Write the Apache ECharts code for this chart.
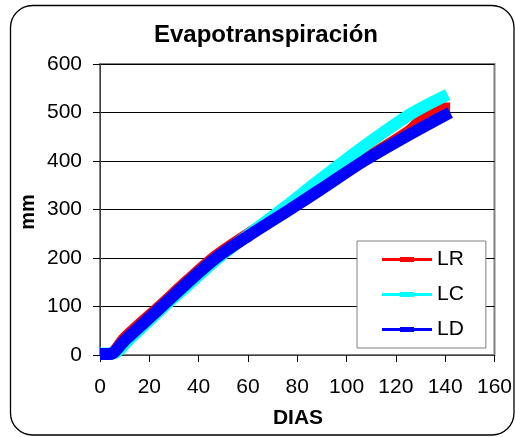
<!DOCTYPE html>
<html lang="es">
<head>
    <meta charset="utf-8">
    <title>Evapotranspiración</title>
    <script src="https://cdn.jsdelivr.net/npm/echarts@6/dist/echarts.min.js"></script>
    <style>
        html, body { margin: 0; padding: 0; background: #fff; }
        #chart { width: 515px; height: 437px; }
    </style>
</head>
<body>
<div id="chart"></div>

<script>
    // values: [day, mm]
    var lrDays   = [0, 4, 10, 25, 35, 47, 60, 77, 90, 107, 125, 137, 142];
    var lrValues = [2, 2, 35, 104, 151, 204, 249, 302, 345, 402, 460, 508, 508];

    var lcDays   = [0, 5, 12, 26, 37, 48, 62, 75, 87, 99, 113, 127, 141];
    var lcValues = [3, 3, 33, 100, 150, 200, 255, 305, 353, 400, 452, 500, 537];

    var ldDays   = [0, 4, 10, 25, 35, 47, 60, 77, 90, 107, 125, 142];
    var ldValues = [2, 2, 30, 100, 147, 200, 245, 300, 343, 400, 453, 500];

    var seriesNames = ['LR', 'LC', 'LD'];
    var seriesColors = ['#ff0000', '#00ffff', '#0000ff'];

    function pairs(days, values) {
        var out = [];
        for (var i = 0; i < days.length; i++) {
            out.push([days[i], values[i]]);
        }
        return out;
    }

    var font = '"Liberation Sans", Arial, sans-serif';
    var legendIcon = 'path://M0,1H50V4H0Z M18,0H32V5H18Z';

    function lineSeries(idx, data) {
        return {
            name: seriesNames[idx],
            type: 'line',
            data: data,
            showSymbol: false,
            symbol: 'none',
            smooth: 0.3,
            lineStyle: { width: 12, color: seriesColors[idx], cap: 'butt' },
            itemStyle: { color: seriesColors[idx] }
        };
    }

    var myChart = echarts.init(document.getElementById('chart'), null, { renderer: 'canvas' });

    var option = {
        animation: false,
        backgroundColor: '#fff',
        textStyle: { fontFamily: font },
        grid: {
            left: 100, right: 17, top: 64, bottom: 82,
            show: true, borderColor: '#808080', borderWidth: 2
        },
        xAxis: {
            type: 'value', min: 0, max: 160, interval: 20,
            axisLine: { lineStyle: { color: '#404040', width: 1 } },
            axisTick: { show: true, inside: false, length: 7, lineStyle: { color: '#000' } },
            axisLabel: { color: '#000', fontSize: 21, fontFamily: font, margin: 22 },
            splitLine: { show: false }
        },
        yAxis: {
            type: 'value', min: 0, max: 600, interval: 100,
            axisLine: { show: true, lineStyle: { color: '#404040', width: 1 } },
            axisTick: { show: true, inside: false, length: 7, lineStyle: { color: '#000' } },
            axisLabel: { color: '#000', fontSize: 21, fontFamily: font, margin: 18 },
            splitLine: { show: true, lineStyle: { color: '#000', width: 1 } }
        },
        legend: {
            orient: 'vertical',
            left: 357, top: 241,
            padding: [8, 22, 8, 25],
            itemGap: 14,
            itemWidth: 50, itemHeight: 5,
            backgroundColor: '#fff',
            borderColor: '#808080', borderWidth: 1,
            textStyle: { color: '#000', fontSize: 21, fontFamily: font, lineHeight: 21 },
            data: seriesNames.map(function (n) { return { name: n, icon: legendIcon }; })
        },
        graphic: [
            {
                type: 'rect', z: -10, silent: true,
                shape: { x: 10.5, y: 5.5, width: 503.5, height: 429.5, r: 22 },
                style: { fill: 'none', stroke: '#000', lineWidth: 1.3 }
            },
            {
                type: 'text', x: 266, y: 35,
                style: { text: 'Evapotranspiración', fill: '#000', font: 'bold 24px ' + font, align: 'center', verticalAlign: 'middle' }
            },
            {
                type: 'text', x: 28, y: 212, rotation: Math.PI / 2,
                style: { text: 'mm', fill: '#000', font: 'bold 20px ' + font, align: 'center', verticalAlign: 'middle' }
            },
            {
                type: 'text', x: 298, y: 418,
                style: { text: 'DIAS', fill: '#000', font: 'bold 21px ' + font, align: 'center', verticalAlign: 'middle' }
            }
        ],
        series: [
            lineSeries(0, pairs(lrDays, lrValues)),
            lineSeries(1, pairs(lcDays, lcValues)),
            lineSeries(2, pairs(ldDays, ldValues))
        ]
    };

    myChart.setOption(option);
</script>
</body>
</html>
